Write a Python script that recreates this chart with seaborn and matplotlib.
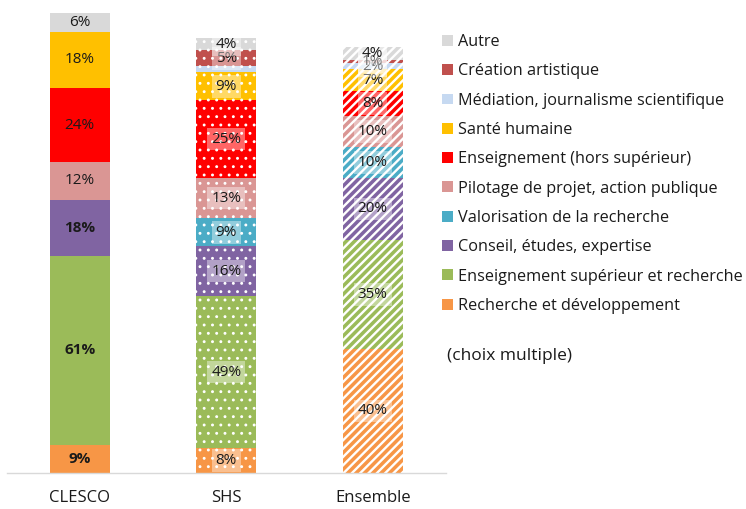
import matplotlib
matplotlib.use("Agg")
import matplotlib.pyplot as plt
import seaborn as sns
import numpy as np
from matplotlib.patches import Patch

groups = ["CLESCO", "SHS", "Ensemble"]
# order bottom -> top
series = ["Recherche et développement", "Enseignement supérieur et recherche",
          "Conseil, études, expertise", "Valorisation de la recherche",
          "Pilotage de projet, action publique", "Enseignement (hors supérieur)",
          "Santé humaine", "Médiation, journalisme scientifique",
          "Création artistique", "Autre"]
colors = ["#F79646", "#9BBB59", "#8064A2", "#4BACC6", "#DA9694",
          "#FF0000", "#FFC000", "#C6D9F1", "#C0504D", "#D9D9D9"]
clesco = [9, 61, 18, 0, 12, 24, 18, 0, 0, 6]
shs = [8, 49, 16, 9, 13, 25, 9, 2, 5, 4]
ensemble = [40, 35, 20, 10, 10, 8, 7, 2, 1, 4]
bold_clesco = ["Recherche et développement", "Enseignement supérieur et recherche",
               "Conseil, études, expertise"]
note = "(choix multiple)"

sns.set_style("white")
plt.rcParams["font.family"] = ["Open Sans", "DejaVu Sans"]

fig = plt.figure(figsize=(7.46, 5.09), dpi=100)
ax = fig.add_axes([6.5 / 746, 1 - 473 / 509, (446 - 6.5) / 746, 466 / 509])

data = np.array([clesco, shs, ensemble], dtype=float)  # groups x series
cum = np.cumsum(data, axis=1)
hatches = [None, "..", "////"]
hlw = [0, 0.9, 1.7]

for j in range(len(series) - 1, -1, -1):
    n0 = len(ax.patches)
    sns.barplot(x=groups, y=cum[:, j], color=colors[j], saturation=1,
                width=0.41, linewidth=0, edgecolor="white", ax=ax)
    for gi, p in enumerate(ax.patches[n0:]):
        if hatches[gi]:
            p.set_hatch(hatches[gi])
            try:
                p.set_hatch_linewidth(hlw[gi])
            except Exception:
                pass

# labels
for gi in range(3):
    for j in range(len(series)):
        v = data[gi, j]
        if v <= 0:
            continue
        if gi == 1 and series[j] == "Médiation, journalisme scientifique":
            continue
        y = cum[gi, j] - v / 2
        kw = dict(ha="center", va="center", fontsize=11, color="#1a1a1a")
        if gi == 0:
            if series[j] in bold_clesco:
                kw["fontweight"] = "bold"
        else:
            kw["bbox"] = dict(boxstyle="square,pad=0.25", fc="white", alpha=0.4, ec="none")
        ax.text(gi, y, f"{int(v)}%", **kw)

ax.set_ylim(0, 150)
ax.set_xlim(-0.5, 2.5)
ax.set_yticks([])
ax.set_xlabel("")
ax.set_ylabel("")
for s in ["top", "right", "left"]:
    ax.spines[s].set_visible(False)
ax.spines["bottom"].set_color("#D9D9D9")
ax.spines["bottom"].set_linewidth(1)
ax.tick_params(axis="x", length=0, pad=12, labelsize=12, colors="#1a1a1a")

handles = [Patch(facecolor=colors[j], edgecolor="none") for j in range(len(series) - 1, -1, -1)]
labels = [series[j] for j in range(len(series) - 1, -1, -1)]
fig.legend(handles, labels, loc="upper left", bbox_to_anchor=(442 / 746, 1 - 34 / 509),
           frameon=False, fontsize=11.7, handlelength=0.65, handleheight=0.65,
           handletextpad=0.35, labelspacing=0.82, borderaxespad=0, borderpad=0,
           labelcolor="#1a1a1a")
fig.text(447 / 746, 1 - 356 / 509, note, fontsize=12.5, va="center", ha="left", color="#1a1a1a")

fig.savefig("out.png", dpi=100)
